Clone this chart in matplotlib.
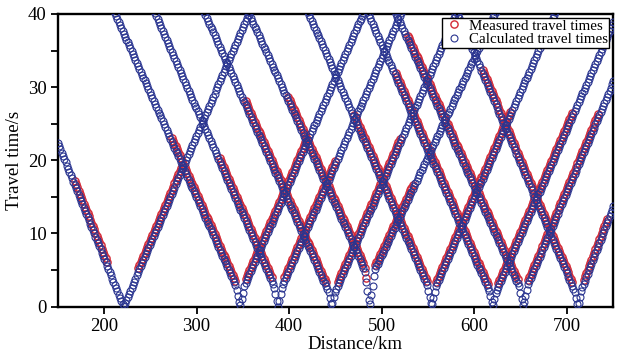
import numpy as np
import matplotlib
matplotlib.use("Agg")
import matplotlib.pyplot as plt

plt.rcParams['font.family'] = ['Liberation Serif', 'DejaVu Serif']

# shot (apex) positions, km
shot_km = [221, 347, 388, 446, 487, 554, 620, 653, 712]
# intercept time of the far branches, s
intercept_s = [0.0, 1.5, 1.5, 1.0, 3.5, 1.5, 1.0, 1.5, 1.0]
# slope of the left / right branch, s per km
slope_left = [0.315, 0.285, 0.29, 0.285, 0.28, 0.29, 0.29, 0.28, 0.30]
slope_right = [0.296, 0.29, 0.29, 0.29, 0.27, 0.29, 0.29, 0.30, 0.33]
# slope of the steep part close to each shot, s per km
near_slope = [0.315, 0.6, 0.6, 0.6, 0.9, 0.6, 0.6, 0.6, 0.6]

# receiver positions, km
receiver_km = np.arange(150, 751, 1.4)

# measured stretches: shot index, side, from km, to km
meas_shot = [0, 0, 1, 1, 2, 2, 3, 3, 4, 4, 5, 5, 6, 6, 7, 7, 8, 8]
meas_side = ['L', 'R'] * 9
meas_from = [167, 236, 272, 352, 324, 394, 352, 452, 398, 492, 470, 558, 515, 625, 527, 658, 608, 718]
meas_to = [204, 284, 342, 420, 382, 450, 440, 520, 484, 535, 550, 640, 615, 706, 648, 735, 706, 745]
meas_shift_s = 0.55


def travel_time(d, i, side):
    off = np.abs(d - shot_km[i])
    s = slope_left[i] if side == 'L' else slope_right[i]
    return np.minimum(near_slope[i] * off, intercept_s[i] + s * off)


fig = plt.figure(figsize=(6.28, 3.57), dpi=100)
ax = fig.add_axes([0.092, 0.141, 0.884, 0.820])

blue = '#2a3590'
red = '#d42a36'

# measured
for k in range(len(meas_shot)):
    i = meas_shot[k]
    lo, hi = sorted((meas_from[k], meas_to[k]))
    d = receiver_km[(receiver_km >= lo) & (receiver_km <= hi)]
    t = travel_time(d, i, meas_side[k]) + meas_shift_s
    ax.plot(d, t, 'o', mfc='none', mec=red, ms=5.2, mew=1.0,
            label='Measured travel times' if k == 0 else None, zorder=2)

# calculated
first = True
for i in range(len(shot_km)):
    for side in ['L', 'R']:
        if side == 'L':
            d = receiver_km[receiver_km <= shot_km[i]]
        else:
            d = receiver_km[receiver_km > shot_km[i]]
        t = travel_time(d, i, side)
        keep = t <= 40.5
        ax.plot(d[keep], t[keep], 'o', mfc='none', mec=blue, ms=5.0, mew=0.8,
                label='Calculated travel times' if first else None, zorder=3)
        first = False

ax.set_xlim(150, 750)
ax.set_ylim(0, 40)
ax.set_xticks([200, 300, 400, 500, 600, 700])
ax.set_yticks([0, 10, 20, 30, 40])
ax.set_yticks([5, 15, 25, 35], minor=True)
ax.tick_params(which='both', direction='out', labelsize=13.5, width=1.3)
ax.tick_params(which='major', length=5, pad=3)
ax.tick_params(which='minor', length=5)
for sp in ax.spines.values():
    sp.set_linewidth(1.7)

ax.set_xlabel('Distance/km', fontsize=13.5)
ax.set_ylabel('Travel time/s', fontsize=13.5)
ax.xaxis.set_label_coords(0.535, -0.1)
ax.yaxis.set_label_coords(-0.062, 0.5)

leg = ax.legend(loc='upper right', fontsize=10.8, frameon=True, fancybox=False,
                edgecolor='black', borderpad=0.1, handletextpad=0.3,
                labelspacing=0.0, borderaxespad=0.25, handlelength=1.4,
                markerscale=1.0, framealpha=1.0)
leg.get_frame().set_linewidth(1.0)

fig.savefig('out.png', dpi=100)
